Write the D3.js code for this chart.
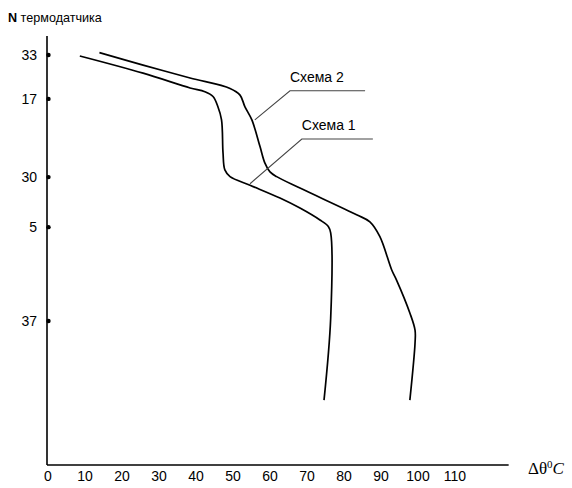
<!DOCTYPE html>
<html>
<head>
<meta charset="utf-8">
<script src="https://cdn.jsdelivr.net/npm/d3@7"></script>
<style>
  body { margin: 0; background: #fff; }
  svg { display: block; font-family: Arial, "Liberation Sans", sans-serif; }
</style>
</head>
<body>
<div id="root"></div>
<script>
const width = 572;
const height = 488;

// sensor numbers and their depth along the string (relative units)
const sensorIds = ['33', '17', '30', '5', '37'];
const sensorDepth = [0.40, 1.32, 2.96, 4.01, 5.98];

const xTicks = [0, 10, 20, 30, 40, 50, 60, 70, 80, 90, 100, 110];

// Схема 1: temperature rise vs depth
const s1Temp  = [8.6, 25.7, 38.4, 42.4, 44.6, 45.9, 46.9, 47.3, 47.8, 49.2, 54.6, 62.7, 68.1, 73.5, 75.8, 76.4, 76.4, 74.6];
const s1Depth = [0.42, 0.78, 1.09, 1.17, 1.27, 1.48, 1.76, 2.45, 2.81, 2.95, 3.13, 3.40, 3.61, 3.86, 4.00, 4.13, 5.92, 7.64];

// Схема 2
const s2Temp  = [13.9, 25.7, 38.4, 49.2, 51.9, 53.2, 55.1, 57.3, 58.6, 60.0, 61.8, 68.1, 83.4, 87.0, 89.7, 92.9, 94.2, 97.8, 99.2, 99.2, 97.8];
const s2Depth = [0.35, 0.61, 0.88, 1.10, 1.24, 1.48, 1.76, 2.32, 2.66, 2.85, 2.95, 3.19, 3.75, 3.90, 4.21, 4.91, 5.12, 5.81, 6.17, 6.44, 7.64];

// callout labels: [anchor temp, anchor depth, elbow temp, elbow depth, end temp]
const labelNames = ['Схема 2', 'Схема 1'];
const labelLines = [
    [55.9, 1.76, 65.4, 1.15, 85.7],
    [54.6, 3.10, 68.6, 2.16, 87.8]
];

const x = d3.scaleLinear().domain([0, 110]).range([48, 455]);
const y = d3.scaleLinear().domain([0, 9]).range([36, 465]);

const svg = d3.select('#root')
    .append('svg')
    .attr('width', width)
    .attr('height', height);

// axes
svg.append('line')
    .attr('x1', 47).attr('x2', 47)
    .attr('y1', y(0)).attr('y2', y(9))
    .attr('stroke', '#000').attr('stroke-width', 1.6);

svg.append('line')
    .attr('x1', 47).attr('x2', x(124.5))
    .attr('y1', y(9)).attr('y2', y(9))
    .attr('stroke', '#000').attr('stroke-width', 1.6);

svg.selectAll('.xlab')
    .data(xTicks)
    .join('text')
    .attr('class', 'xlab')
    .attr('x', d => x(d))
    .attr('y', 481)
    .attr('text-anchor', 'middle')
    .attr('font-size', 14)
    .text(d => d);

// sensor ticks
svg.selectAll('.dot')
    .data(sensorDepth)
    .join('circle')
    .attr('class', 'dot')
    .attr('cx', 48.5)
    .attr('cy', d => y(d))
    .attr('r', 2.2)
    .attr('fill', '#000');

svg.selectAll('.ylab')
    .data(sensorIds)
    .join('text')
    .attr('class', 'ylab')
    .attr('x', 37)
    .attr('y', (d, i) => y(sensorDepth[i]) + 5)
    .attr('text-anchor', 'end')
    .attr('font-size', 14)
    .text(d => d);

// title
const title = svg.append('text')
    .attr('x', 8)
    .attr('y', 22)
    .attr('font-size', 12.6);
title.append('tspan').attr('font-weight', 'bold').text('N');
title.append('tspan').text(' термодатчика');

// x label  Δθ⁰C
const xl = svg.append('text')
    .attr('x', 528)
    .attr('y', 474)
    .attr('font-family', '"Liberation Serif", "Times New Roman", serif')
    .attr('font-size', 17);
xl.append('tspan').text('Δθ');
xl.append('tspan').attr('font-size', 11).attr('dy', -6).text('0');
xl.append('tspan').attr('font-style', 'italic').attr('dy', 6).text('C');

// curves
const line = d3.line()
    .x(d => x(d[0]))
    .y(d => y(d[1]))
    .curve(d3.curveCatmullRom.alpha(0.5));

[[s1Temp, s1Depth], [s2Temp, s2Depth]].forEach(([t, dp]) => {
    svg.append('path')
        .datum(t.map((v, i) => [v, dp[i]]))
        .attr('fill', 'none')
        .attr('stroke', '#000')
        .attr('stroke-width', 1.7)
        .attr('d', line);
});

// callouts
labelLines.forEach((l, i) => {
    svg.append('polyline')
        .attr('points', [[x(l[0]), y(l[1])], [x(l[2]), y(l[3])], [x(l[4]), y(l[3])]].map(p => p.join(',')).join(' '))
        .attr('fill', 'none')
        .attr('stroke', '#444')
        .attr('stroke-width', 1.1);
    svg.append('text')
        .attr('x', x(l[2]))
        .attr('y', y(l[3]) - 9)
        .attr('font-size', 14)
        .text(labelNames[i]);
});
</script>
</body>
</html>
